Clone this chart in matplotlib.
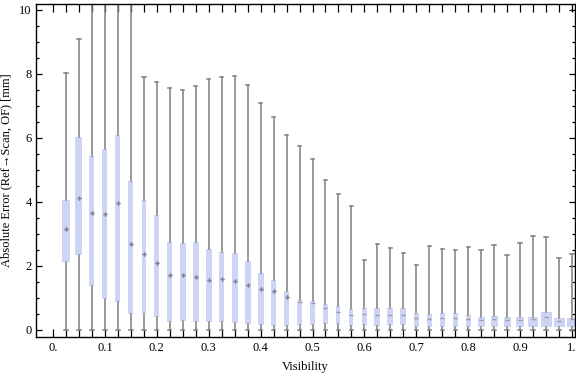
import matplotlib
matplotlib.use("Agg")
import matplotlib.pyplot as plt
import numpy as np

plt.rcParams['font.family'] = ['Liberation Serif', 'DejaVu Serif']

# ---- data ----
visibility = [0.025, 0.05, 0.075, 0.1, 0.125, 0.15, 0.175, 0.2, 0.225, 0.25,
              0.275, 0.3, 0.325, 0.35, 0.375, 0.4, 0.425, 0.45, 0.475, 0.5,
              0.525, 0.55, 0.575, 0.6, 0.625, 0.65, 0.675, 0.7, 0.725, 0.75,
              0.775, 0.8, 0.825, 0.85, 0.875, 0.9, 0.925, 0.95, 0.975, 1.0]
whisker_low = [0.0] * 40
q1 = [2.13, 2.34, 1.38, 0.96, 0.88, 0.51, 0.51, 0.42, 0.26, 0.29,
      0.26, 0.26, 0.26, 0.23, 0.20, 0.17, 0.13, 0.13, 0.17, 0.17,
      0.20, 0.20, 0.13, 0.17, 0.13, 0.17, 0.17, 0.10, 0.10, 0.09,
      0.09, 0.09, 0.09, 0.09, 0.09, 0.09, 0.09, 0.09, 0.09, 0.09]
median = [3.16, 4.13, 3.65, 3.64, 3.97, 2.70, 2.38, 2.09, 1.72, 1.71,
          1.65, 1.57, 1.60, 1.53, 1.42, 1.27, 1.21, 1.02, 0.88, 0.85,
          0.69, 0.56, 0.46, 0.49, 0.46, 0.46, 0.46, 0.36, 0.33, 0.36,
          0.36, 0.33, 0.30, 0.33, 0.30, 0.30, 0.33, 0.40, 0.27, 0.34]
q3 = [4.06, 6.04, 5.44, 5.66, 6.09, 4.65, 4.06, 3.59, 2.75, 2.72,
      2.75, 2.53, 2.44, 2.41, 2.16, 1.78, 1.56, 1.22, 0.94, 0.91,
      0.81, 0.75, 0.66, 0.69, 0.69, 0.69, 0.69, 0.53, 0.50, 0.53,
      0.53, 0.47, 0.41, 0.44, 0.41, 0.41, 0.41, 0.56, 0.375, 0.375]
whisker_high = [8.02, 9.08, 11.5, 12.0, 11.0, 12.5, 7.90, 7.74, 7.55, 7.50,
                7.61, 7.83, 7.90, 7.93, 7.65, 7.08, 6.65, 6.08, 5.74, 5.33,
                4.68, 4.24, 3.86, 2.18, 2.68, 2.55, 2.40, 2.02, 2.61, 2.52,
                2.50, 2.58, 2.50, 2.65, 2.33, 2.72, 2.93, 2.90, 2.24, 2.37]
# relative box widths (pixels in the reference)
box_px = [8, 7, 5, 5, 5, 5, 4, 5, 5, 6,
          6, 6, 5, 6, 6, 6, 5, 5, 5, 5,
          5, 4, 4, 5, 6, 6, 6, 5, 5, 5,
          5, 5, 7, 7, 7, 8, 10, 11, 11, 10]

x_ticks = [0.0, 0.1, 0.2, 0.3, 0.4, 0.5, 0.6, 0.7, 0.8, 0.9, 1.0]
x_tick_labels = ["0.", "0.1", "0.2", "0.3", "0.4", "0.5", "0.6", "0.7", "0.8", "0.9", "1."]
y_ticks = [0, 2, 4, 6, 8, 10]
y_tick_labels = ["0", "2", "4", "6", "8", "10"]

# ---- figure ----
W, H = 576, 377
fig = plt.figure(figsize=(W / 100, H / 100), dpi=100)
ax = fig.add_axes([36 / W, 1 - 336.7 / H, (575.3 - 36) / W, (336.7 - 4.3) / H])

px_per_unit_x = 519.0
widths = [p / px_per_unit_x for p in box_px]

stats = []
for i in range(len(visibility)):
    stats.append(dict(med=median[i], q1=q1[i], q3=q3[i],
                      whislo=whisker_low[i], whishi=whisker_high[i], fliers=[]))

box_color = '#cdd4f4'
grey = '#7f7f7f'
ax.bxp(stats, positions=visibility, widths=widths, patch_artist=True,
       showfliers=False, capwidths=0.0065, manage_ticks=False,
       boxprops=dict(facecolor=box_color, edgecolor='none', linewidth=0),
       whiskerprops=dict(color=grey, linewidth=1.1),
       capprops=dict(color=grey, linewidth=1.1),
       medianprops=dict(linewidth=0, color='none'))

for i, v in enumerate(visibility):
    tall = (q3[i] - q1[i]) > 1.0
    if tall:
        ax.plot([v], [median[i]], marker='P', ms=3.2, color='#80808c',
                mec='none', zorder=5)
    else:
        ax.plot([v], [median[i]], marker='_', ms=3.5, mew=1.0,
                color='#9a9aaa', zorder=5)

ax.set_xlim((36 - 53) / px_per_unit_x, (575.3 - 53) / px_per_unit_x)
ax.set_ylim((330 - 336.7) / 32.0, (330 - 4.3) / 32.0)

ax.set_xticks(x_ticks)
ax.set_xticklabels(x_tick_labels)
ax.set_xticks(np.array(visibility + [0.0]), minor=True)
ax.set_yticks(y_ticks)
ax.set_yticklabels(y_tick_labels)
ax.set_yticks(np.arange(0, 10.01, 0.5), minor=True)

ax.tick_params(axis='both', which='both', direction='in', top=True, right=True,
               labelsize=9, width=0.9, colors='black')
ax.tick_params(axis='x', which='both', length=5.5)
ax.tick_params(axis='y', which='major', length=4, pad=3)
ax.tick_params(axis='y', which='minor', length=2.3)
ax.tick_params(axis='x', which='major', pad=4)

for s in ax.spines.values():
    s.set_linewidth(1.0)
    s.set_color('black')

ax.set_xlabel("Visibility", fontsize=9, labelpad=5)
ax.set_ylabel("Absolute Error (Ref\u2192Scan, OF) [mm]", fontsize=9)
ax.yaxis.set_label_coords(-0.044, 0.5)

fig.savefig("out.png", dpi=100)
